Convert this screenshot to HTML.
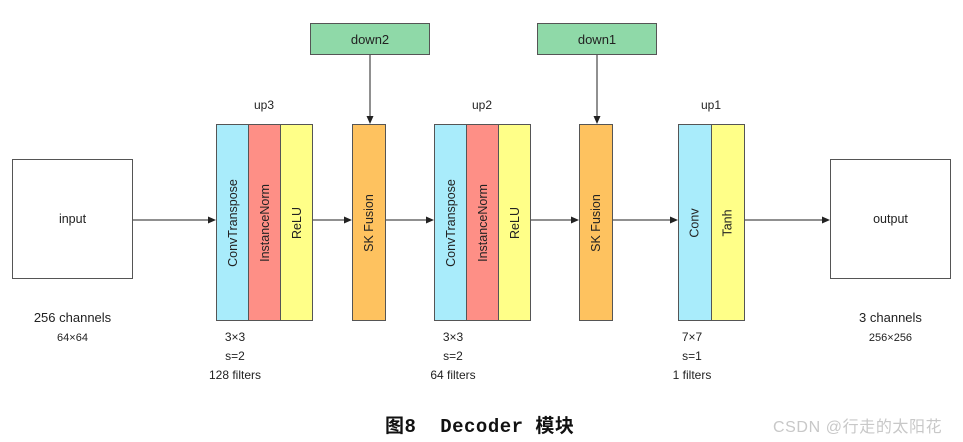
<!DOCTYPE html>
<html><head><meta charset="utf-8"><style>
body{margin:0;background:#fff;width:963px;height:442px;overflow:hidden;position:relative;font-family:"Liberation Sans","Noto Sans CJK SC",sans-serif;}
.b{position:absolute;box-sizing:border-box;border:1px solid #555;}
.v{display:flex;align-items:center;justify-content:center;}
.v span{transform:rotate(-90deg);white-space:nowrap;font-size:12.5px;color:#222;}
.t{position:absolute;font-size:12px;color:#222;text-align:center;line-height:19px;}
</style></head><body>
<svg width="963" height="442" style="position:absolute;left:0;top:0">
<defs><marker id="a" markerWidth="8" markerHeight="8" refX="7" refY="4" orient="auto"><path d="M0,0.5 L8,4 L0,7.5z" fill="#222"/></marker></defs>
<g stroke="#222" stroke-width="1" marker-end="url(#a)">
<line x1="133" y1="220" x2="215" y2="220"/>
<line x1="312" y1="220" x2="351" y2="220"/>
<line x1="385" y1="220" x2="433" y2="220"/>
<line x1="530" y1="220" x2="578" y2="220"/>
<line x1="612" y1="220" x2="677" y2="220"/>
<line x1="744" y1="220" x2="829" y2="220"/>
<line x1="370" y1="55" x2="370" y2="123"/>
<line x1="597" y1="55" x2="597" y2="123"/>
</g></svg>
<div class="b v" style="left:12px;top:159px;width:121px;height:120px"><span style="transform:none">input</span></div>
<div class="b v" style="left:830px;top:159px;width:121px;height:120px"><span style="transform:none">output</span></div>
<div class="b v" style="left:310px;top:23px;width:120px;height:32px;background:#8fd9a8"><span style="transform:none;font-size:13px">down2</span></div>
<div class="b v" style="left:537px;top:23px;width:120px;height:32px;background:#8fd9a8"><span style="transform:none;font-size:13px">down1</span></div>
<div class="t" style="left:216px;top:96px;width:96px">up3</div>
<div class="t" style="left:434px;top:96px;width:96px">up2</div>
<div class="t" style="left:678px;top:96px;width:66px">up1</div>
<div class="b v" style="left:216px;top:124px;width:33px;height:197px;background:#a9ecfb"><span>ConvTranspose</span></div>
<div class="b v" style="left:248px;top:124px;width:33px;height:197px;background:#fe8f86"><span>InstanceNorm</span></div>
<div class="b v" style="left:280px;top:124px;width:33px;height:197px;background:#ffff88"><span>ReLU</span></div>
<div class="b v" style="left:352px;top:124px;width:34px;height:197px;background:#fec25f"><span>SK Fusion</span></div>
<div class="b v" style="left:434px;top:124px;width:33px;height:197px;background:#a9ecfb"><span>ConvTranspose</span></div>
<div class="b v" style="left:466px;top:124px;width:33px;height:197px;background:#fe8f86"><span>InstanceNorm</span></div>
<div class="b v" style="left:498px;top:124px;width:33px;height:197px;background:#ffff88"><span>ReLU</span></div>
<div class="b v" style="left:579px;top:124px;width:34px;height:197px;background:#fec25f"><span>SK Fusion</span></div>
<div class="b v" style="left:678px;top:124px;width:34px;height:197px;background:#a9ecfb"><span>Conv</span></div>
<div class="b v" style="left:711px;top:124px;width:34px;height:197px;background:#ffff88"><span>Tanh</span></div>
<div class="t" style="left:12px;top:308px;width:121px;font-size:13px">256 channels<br><span style="font-size:11px">64×64</span></div>
<div class="t" style="left:830px;top:308px;width:121px;font-size:13px">3 channels<br><span style="font-size:11px">256×256</span></div>
<div class="t" style="left:195px;top:328px;width:80px">3×3<br>s=2<br>128 filters</div>
<div class="t" style="left:413px;top:328px;width:80px">3×3<br>s=2<br>64 filters</div>
<div class="t" style="left:652px;top:328px;width:80px">7×7<br>s=1<br>1 filters</div>
<div style="position:absolute;left:385px;top:411px;font-family:'Liberation Mono','Noto Sans CJK SC',monospace;font-weight:bold;font-size:19px;letter-spacing:0.5px;color:#111;white-space:nowrap">图8&nbsp; Decoder 模块</div>
<div style="position:absolute;left:773px;top:413px;font-size:16px;letter-spacing:0.6px;color:#c8c8c8;white-space:nowrap">CSDN @行走的太阳花</div>
</body></html>
